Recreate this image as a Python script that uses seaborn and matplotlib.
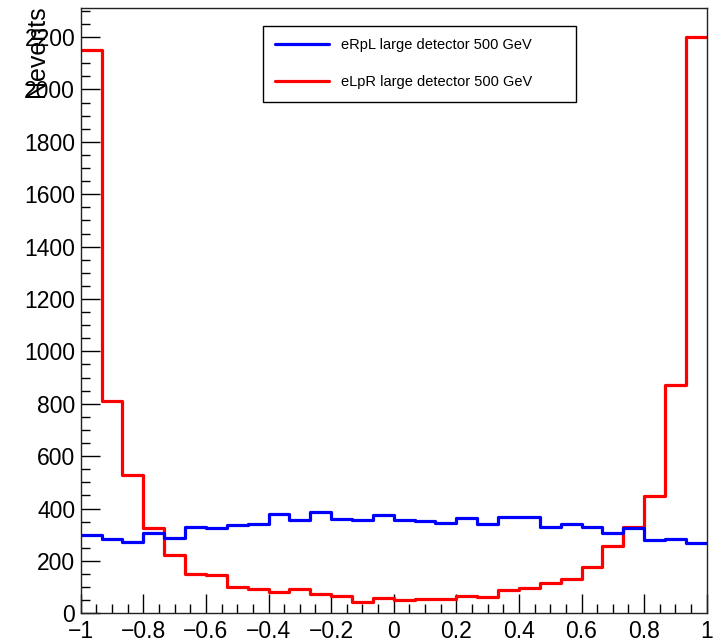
import numpy as np
import pandas as pd
import matplotlib
matplotlib.use("Agg")
import matplotlib.pyplot as plt
import matplotlib.ticker as mticker
import seaborn as sns

# 30 bins between -1 and 1
n_bins = 30
bin_edges = np.linspace(-1, 1, n_bins + 1)
bin_centers = 0.5 * (bin_edges[:-1] + bin_edges[1:])

erpl_counts = [299, 282, 273, 305, 287, 329, 325, 336, 341, 380,
               355, 387, 361, 356, 377, 355, 351, 344, 364, 342,
               369, 366, 330, 341, 328, 305, 326, 280, 284, 268]
elpr_counts = [2150, 810, 528, 324, 224, 149, 145, 101, 94, 83,
               93, 73, 65, 42, 60, 51, 53, 53, 65, 61,
               89, 97, 115, 132, 176, 257, 328, 448, 871, 2200]

erpl_label = "eRpL large detector 500 GeV"
elpr_label = "eLpR large detector 500 GeV"

x_ticks = [-1, -0.8, -0.6, -0.4, -0.2, 0, 0.2, 0.4, 0.6, 0.8, 1]
x_tick_labels = ["\u22121", "\u22120.8", "\u22120.6", "\u22120.4", "\u22120.2",
                 "0", "0.2", "0.4", "0.6", "0.8", "1"]
y_ticks = list(range(0, 2201, 200))

df = pd.DataFrame({
    "x": np.concatenate([bin_centers, bin_centers]),
    "w": erpl_counts + elpr_counts,
    "sample": [erpl_label] * n_bins + [elpr_label] * n_bins,
})

sns.set_style("ticks")
plt.rcParams["font.family"] = ["Liberation Sans", "DejaVu Sans"]
plt.rcParams["text.color"] = "black"
plt.rcParams["axes.labelcolor"] = "black"
plt.rcParams["xtick.color"] = "black"
plt.rcParams["ytick.color"] = "black"

fig = plt.figure(figsize=(7.15, 6.42), dpi=100)
ax = fig.add_axes([0.1129, 0.0447, 0.8755, 0.9424])

# red first so the blue sits on top where they meet
for label, color in [(elpr_label, "#ff0000"), (erpl_label, "#0000ff")]:
    sub = df[df["sample"] == label]
    sns.histplot(data=sub, x="x", weights="w", bins=n_bins, binrange=(-1, 1),
                 element="step", fill=False, color=color, linewidth=2.3,
                 label=label, ax=ax)

ax.set_xlim(-1, 1)
ax.set_ylim(0, 2310)
ax.set_xticks(x_ticks)
ax.set_xticklabels(x_tick_labels)
ax.set_yticks(y_ticks)
ax.xaxis.set_minor_locator(mticker.MultipleLocator(0.05))
ax.yaxis.set_minor_locator(mticker.MultipleLocator(50))

ax.tick_params(which="both", direction="in", top=False, right=False,
               labelsize=16.5, color="black", labelcolor="black", width=1)
ax.tick_params(which="major", length=13.5, pad=4)
ax.tick_params(which="minor", length=6.5)
ax.tick_params(axis="x", pad=5)

for sp in ax.spines.values():
    sp.set_color("#222222")
    sp.set_linewidth(1)

ax.set_xlabel("")
ax.set_ylabel("Nevents", fontsize=18, loc="top", color="black")
ax.yaxis.set_label_coords(-0.05, 1.005)

handles, labels = ax.get_legend_handles_labels()
order = [labels.index(erpl_label), labels.index(elpr_label)]
leg = ax.legend([handles[i] for i in order], [labels[i] for i in order],
                loc="upper left", bbox_to_anchor=(0.2907, 0.5, 0.5, 0.4712),
                mode="expand", borderaxespad=0, fontsize=10.5,
                handlelength=3.7, handletextpad=0.8, borderpad=0.85,
                labelspacing=1.6, fancybox=False, framealpha=1,
                edgecolor="black")
leg.get_frame().set_linewidth(1)

fig.savefig("out.png", dpi=100)
